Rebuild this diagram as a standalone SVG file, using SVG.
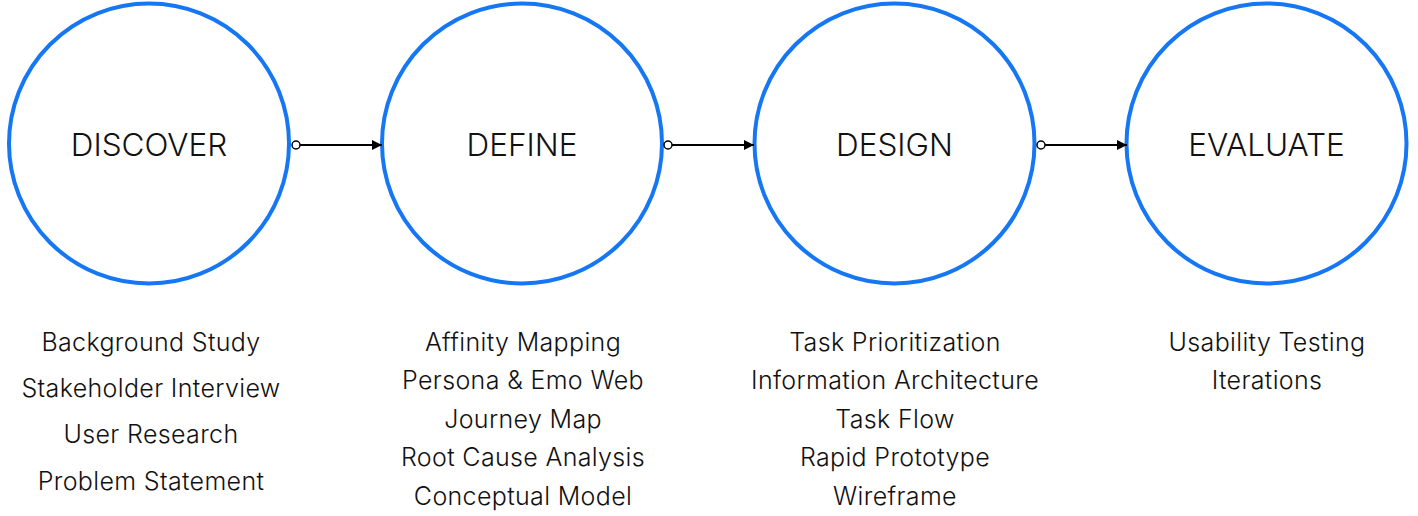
<svg xmlns="http://www.w3.org/2000/svg" width="1418" height="516" viewBox="0 0 1418 516">
<style>
.ring{fill:none;stroke:#1677f5;stroke-width:4}
.title{font-family:Inter,"Liberation Sans",sans-serif;font-size:31.5px;font-weight:300;fill:#111;text-anchor:middle}
.item{font-family:Inter,"Liberation Sans",sans-serif;font-size:25px;font-weight:300;letter-spacing:0.35px;fill:#111;text-anchor:middle}
.conn{stroke:#000;stroke-width:2;fill:none}
.dot{fill:#fff;stroke:#000;stroke-width:1.5}
</style>
<defs>
<marker id="ah" viewBox="0 0 10 10" refX="10" refY="5" markerWidth="5" markerHeight="5" orient="auto" markerUnits="strokeWidth"><path d="M0,0 L10,5 L0,10 Z" fill="#000"/></marker>
</defs>
<rect width="1418" height="516" fill="#fff"/>
<g id="discover">
<circle class="ring" cx="149" cy="143.5" r="140"/>
<text class="title" x="149" y="156">DISCOVER</text>
<text class="item" x="151" y="350.5">Background Study</text>
<text class="item" x="151" y="396.5">Stakeholder Interview</text>
<text class="item" x="151" y="442.5">User Research</text>
<text class="item" x="151" y="489.5">Problem Statement</text>
</g>
<g id="define">
<circle class="ring" cx="522" cy="143.5" r="140"/>
<text class="title" x="522" y="156">DEFINE</text>
<text class="item" x="523" y="350.5">Affinity Mapping</text>
<text class="item" x="523" y="388.5">Persona &amp; Emo Web</text>
<text class="item" x="523" y="427.5">Journey Map</text>
<text class="item" x="523" y="465.5">Root Cause Analysis</text>
<text class="item" x="523" y="504.5">Conceptual Model</text>
</g>
<g id="design">
<circle class="ring" cx="894.5" cy="143.5" r="140"/>
<text class="title" x="894.5" y="156">DESIGN</text>
<text class="item" x="895" y="350.5">Task Prioritization</text>
<text class="item" x="895" y="388.5">Information Architecture</text>
<text class="item" x="895" y="427.5">Task Flow</text>
<text class="item" x="895" y="465.5">Rapid Prototype</text>
<text class="item" x="895" y="504.5">Wireframe</text>
</g>
<g id="evaluate">
<circle class="ring" cx="1266.5" cy="143.5" r="140"/>
<text class="title" x="1266.5" y="156">EVALUATE</text>
<text class="item" x="1267" y="350.5">Usability Testing</text>
<text class="item" x="1267" y="388.5">Iterations</text>
</g>
<g id="connectors">
<line class="conn" x1="300" y1="145" x2="382" y2="145" marker-end="url(#ah)"/>
<circle class="dot" cx="296" cy="145" r="4"/>
<line class="conn" x1="672" y1="145" x2="754" y2="145" marker-end="url(#ah)"/>
<circle class="dot" cx="668" cy="145" r="4"/>
<line class="conn" x1="1045" y1="145" x2="1127" y2="145" marker-end="url(#ah)"/>
<circle class="dot" cx="1041" cy="145" r="4"/>
</g>
</svg>
